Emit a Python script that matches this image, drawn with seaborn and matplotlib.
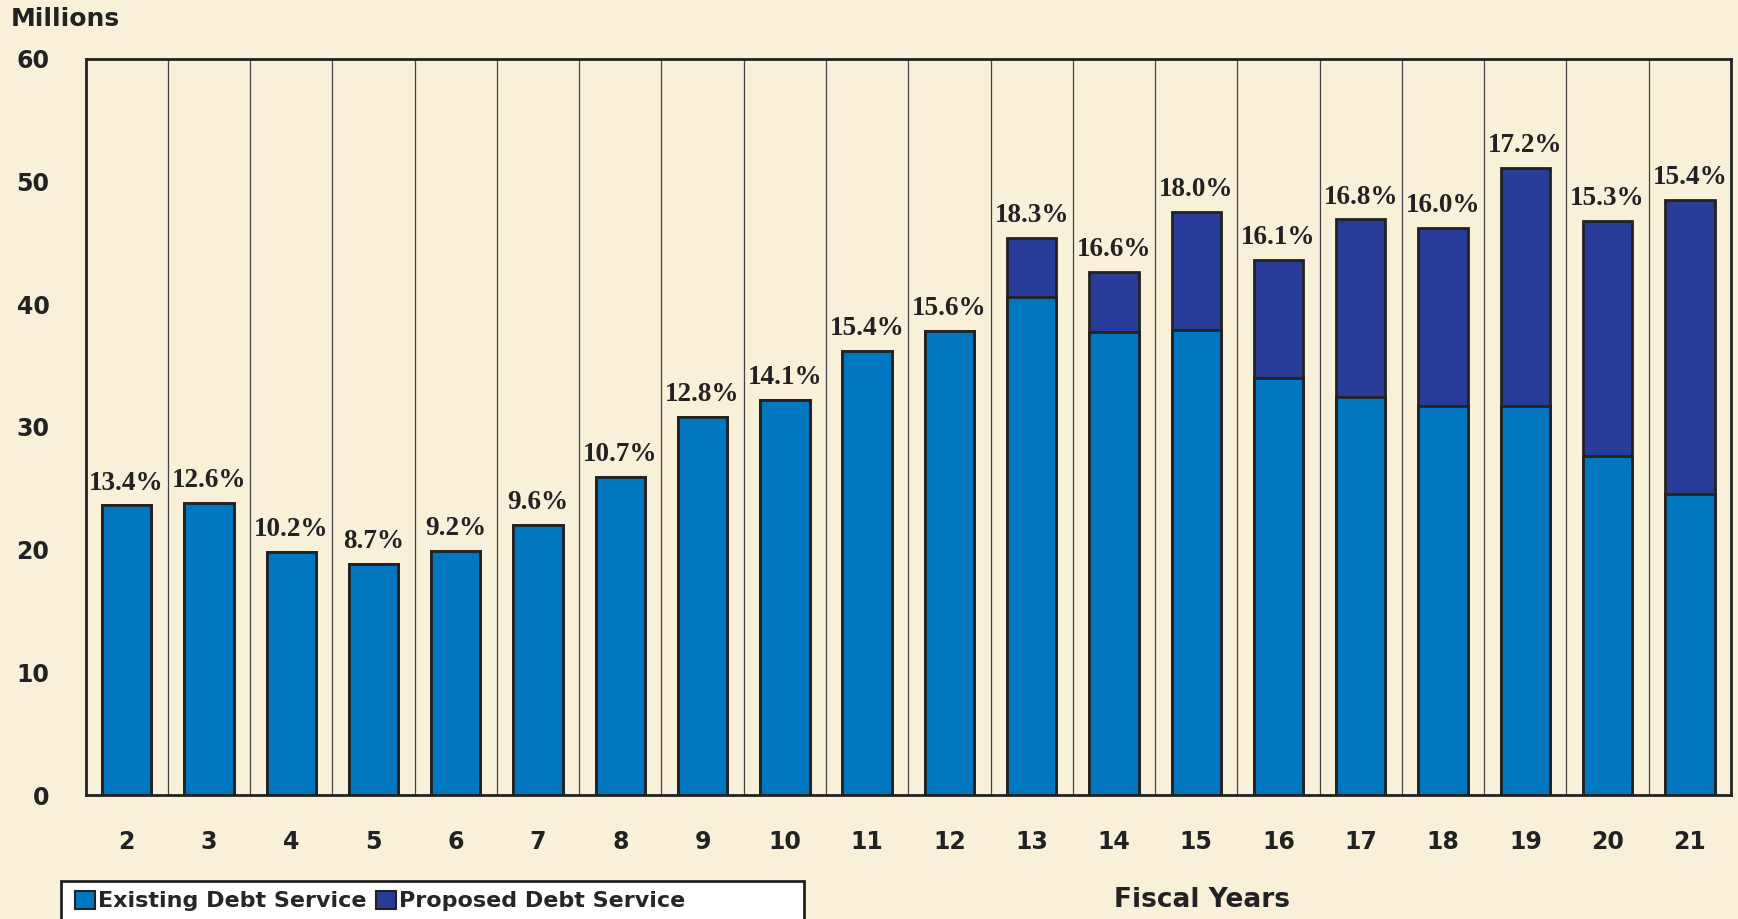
import numpy as np
import pandas as pd
import matplotlib
matplotlib.use("Agg")
import matplotlib.pyplot as plt
from matplotlib.patches import Patch, Rectangle
from matplotlib import font_manager
import seaborn as sns

years = [str(y) for y in range(2, 22)]
existing = [23.6, 23.8, 19.8, 18.8, 19.9, 22.0, 25.9, 30.8, 32.2, 36.2,
            37.8, 40.6, 37.7, 37.9, 34.0, 32.4, 31.7, 31.7, 27.6, 24.5]
proposed = [0, 0, 0, 0, 0, 0, 0, 0, 0, 0,
            0, 4.8, 4.9, 9.6, 9.6, 14.5, 14.5, 19.4, 19.2, 24.0]
pct_labels = ["13.4%", "12.6%", "10.2%", "8.7%", "9.2%", "9.6%", "10.7%", "12.8%", "14.1%", "15.4%",
              "15.6%", "18.3%", "16.6%", "18.0%", "16.1%", "16.8%", "16.0%", "17.2%", "15.3%", "15.4%"]

bg = "#F8F0D8"
c_exist = "#0077BE"
c_prop = "#293B98"

df = pd.DataFrame({"year": years, "existing": existing, "proposed": proposed})
df["total"] = df["existing"] + df["proposed"]

sns.set_style("white")
plt.rcParams["font.family"] = ["DejaVu Sans"]

# condensed face for the legend if it is there
names = {f.name for f in font_manager.fontManager.ttflist}
if "Liberation Sans Narrow" in names:
    leg_font = {"family": "Liberation Sans Narrow", "weight": "bold", "size": 18}
elif "DejaVu Sans Condensed" in names:
    leg_font = {"family": "DejaVu Sans Condensed", "weight": "bold", "size": 17}
else:
    leg_font = {"family": "DejaVu Sans", "weight": "bold", "size": 16}

fig = plt.figure(figsize=(17.38, 9.19), dpi=100, facecolor=bg)
ax = fig.add_axes([0.0492, 0.1349, 0.9468, 0.8014])
ax.set_facecolor(bg)

# stacked: draw total first, then existing on top
sns.barplot(data=df, x="year", y="total", color=c_prop, width=0.6,
            edgecolor="#222222", linewidth=2, saturation=1, ax=ax)
sns.barplot(data=df, x="year", y="existing", color=c_exist, width=0.6,
            edgecolor="#222222", linewidth=2, saturation=1, ax=ax)

for i, (t, lab) in enumerate(zip(df["total"], pct_labels)):
    ax.text(i, t + 0.8, lab, ha="center", va="bottom", fontsize=19.5,
            fontweight="bold", family="Liberation Serif", color="#222222")

ax.set_xlim(-0.5, len(years) - 0.5)
ax.set_ylim(0, 60)
ax.set_yticks(range(0, 61, 10))
ax.set_xticks(range(len(years)))
ax.set_xticklabels(years)
ax.set_xticks(np.arange(0.5, len(years) - 1, 1), minor=True)
ax.grid(False)
ax.grid(True, which="minor", axis="x", color="#444444", linewidth=0.9)
ax.set_axisbelow(True)
ax.tick_params(axis="both", which="both", length=0)
ax.tick_params(axis="y", pad=26, labelsize=17, labelcolor="#222222")
ax.tick_params(axis="x", pad=25, labelsize=17, labelcolor="#222222")
for lab in ax.get_xticklabels() + ax.get_yticklabels():
    lab.set_fontweight("bold")
for s in ax.spines.values():
    s.set_visible(True)
    s.set_linewidth(2)
    s.set_color("#222222")
ax.set_xlabel("")
ax.set_ylabel("")

fig.text(0.0063, 0.979, "Millions", fontsize=18, fontweight="bold",
         color="#222222", va="center", ha="left")
fig.text(0.6914, 0.021, "Fiscal Years", fontsize=19, fontweight="bold",
         color="#222222", va="center", ha="center")

# legend box (runs off the bottom edge)
fig.patches.append(Rectangle((61 / 1738, -0.02), (804 - 61) / 1738, (919 - 881) / 919 + 0.02,
                             transform=fig.transFigure, facecolor="white",
                             edgecolor="#222222", linewidth=2, zorder=1))
handles = [Patch(facecolor=c_exist, edgecolor="#222222", linewidth=1.5, label="Existing Debt Service"),
           Patch(facecolor=c_prop, edgecolor="#222222", linewidth=1.5, label="Proposed Debt Service")]
leg = fig.legend(handles=handles, loc="center left", bbox_to_anchor=(64 / 1738, 1 - 901 / 919),
                 ncol=2, frameon=False, handlelength=0.9, handleheight=0.9,
                 handletextpad=0.15, columnspacing=0.4, borderpad=0, prop=leg_font)
leg.set_zorder(5)

fig.savefig("out.png", dpi=100, facecolor=bg)
